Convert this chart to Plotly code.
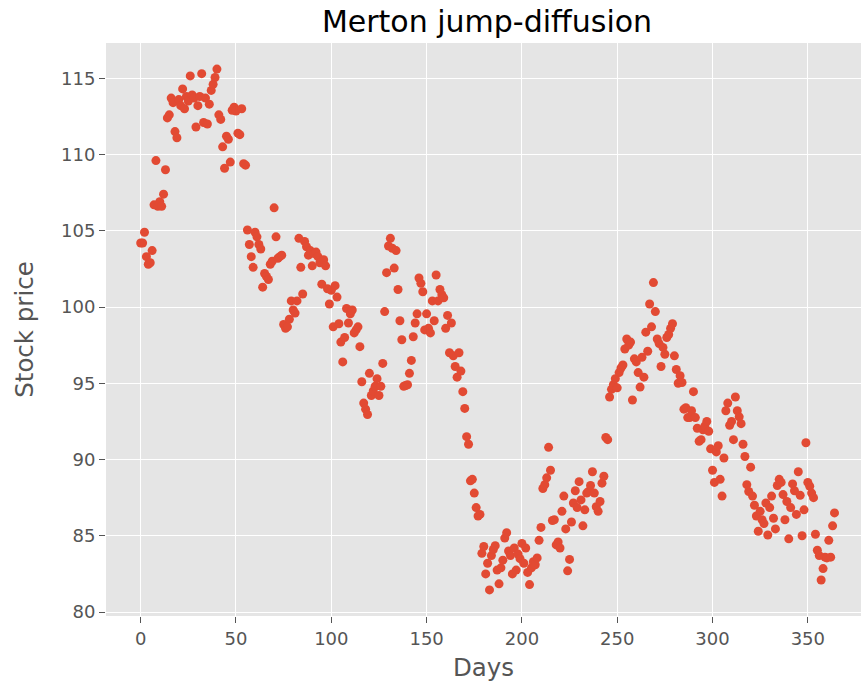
import numpy as np
import plotly.graph_objects as go

# Simulated daily closing prices (Merton jump-diffusion), one value per day
price = [
    104.2, 104.2, 104.9, 103.3, 102.8, 102.9, 103.7, 106.7, 109.6, 106.6,
    106.9, 106.6, 107.4, 109.0, 112.4, 112.6, 113.7, 113.4, 111.5, 111.1,
    113.6, 113.2, 114.3, 113.0, 113.8, 113.5, 115.15, 113.9, 113.7, 111.8,
    113.2, 113.8, 115.3, 112.1, 113.7, 112.0, 113.3, 114.2, 114.6, 115.05,
    115.6, 112.6, 112.3, 110.5, 109.1, 111.2, 111.0, 109.5, 112.9, 113.1,
    112.85, 111.4, 111.3, 113.0, 109.4, 109.3, 105.05, 104.1, 103.3, 102.6,
    104.9, 104.6, 104.1, 103.8, 101.3, 102.2, 102.0, 101.8, 102.8, 103.0,
    106.5, 104.6, 103.2, 103.3, 103.4, 98.85, 98.6, 98.7, 99.2, 100.4,
    99.8, 99.6, 100.4, 104.5, 102.6, 100.85, 104.3, 103.95, 103.4, 103.7,
    102.7, 103.5, 103.6, 103.3, 102.9, 101.5, 103.1, 102.7, 101.2, 100.2,
    101.1, 98.7, 101.4, 100.65, 98.9, 97.7, 96.4, 98.0, 99.9, 98.95,
    99.55, 99.8, 98.3, 98.5, 98.7, 97.4, 95.1, 93.7, 93.3, 92.95,
    95.65, 94.2, 94.5, 94.8, 95.3, 94.2, 94.8, 96.3, 99.7, 102.25,
    104.0, 104.5, 103.85, 102.55, 103.7, 101.15, 99.1, 97.85, 94.8, 94.85,
    94.9, 95.65, 96.5, 98.05, 98.95, 99.55, 101.9, 101.55, 101.0, 98.5,
    99.55, 98.6, 98.3, 100.4, 99.1, 102.1, 100.4, 101.15, 100.8, 100.6,
    98.6, 99.45, 97.0, 98.95, 96.8, 96.1, 95.4, 97.0, 95.8, 94.45,
    93.35, 91.5, 91.0, 88.6, 88.7, 87.8, 86.85, 86.3, 86.4, 83.85,
    84.3, 82.5, 83.2, 81.45, 83.7, 84.1, 84.35, 82.75, 81.85, 82.9,
    83.4, 84.85, 85.2, 84.0, 83.7, 82.5, 84.2, 82.75, 83.8, 83.5,
    84.5, 83.2, 84.2, 82.6, 81.8, 82.9, 83.3, 83.1, 83.55, 84.7,
    85.55, 88.1, 88.35, 88.8, 90.8, 89.3, 86.0, 86.05, 84.4, 84.6,
    84.2, 86.6, 87.6, 85.45, 82.7, 83.45, 85.9, 87.15, 87.95, 86.85,
    88.55, 87.35, 85.65, 86.7, 87.8, 87.9, 88.3, 89.2, 87.8, 86.9,
    86.6, 87.25, 88.45, 88.9, 91.45, 91.3, 94.1, 94.6, 94.9, 95.3,
    94.7, 95.7, 96.0, 96.2, 97.25, 97.9, 97.5, 97.7, 93.9, 96.6,
    96.4, 95.7, 94.75, 96.7, 95.4, 98.35, 97.1, 100.2, 98.7, 101.6,
    99.7, 97.9, 97.6, 96.1, 97.35, 96.9, 98.0, 98.2, 98.6, 98.9,
    96.8, 95.9, 95.0, 95.5, 95.05, 93.3, 93.4, 92.75, 92.75, 93.2,
    94.45, 92.75, 92.05, 91.2, 91.3, 91.95, 92.2, 92.5, 91.85, 90.7,
    89.3, 88.5, 90.5, 90.9, 88.7, 87.6, 90.1, 93.2, 93.7, 92.25,
    92.5, 91.3, 94.1, 93.2, 92.8, 92.35, 91.0, 90.2, 88.35, 87.9,
    89.5, 87.6, 87.0, 86.3, 85.3, 86.6, 86.05, 85.8, 87.15, 85.05,
    86.85, 87.6, 86.15, 85.45, 88.3, 88.7, 88.5, 87.7, 86.05, 87.25,
    84.8, 86.85, 88.4, 87.95, 86.4, 89.2, 87.65, 85.0, 86.7, 91.1,
    88.5, 88.25, 87.8, 87.5, 85.1, 84.05, 83.7, 82.1, 82.85, 83.6,
    83.55, 84.7, 83.6, 85.65, 86.5,
]
days = np.arange(len(price))

x_ticks = [0, 50, 100, 150, 200, 250, 300, 350]
y_ticks = [80, 85, 90, 95, 100, 105, 110, 115]

TITLE = "Merton jump-diffusion"
X_LABEL = "Days"
Y_LABEL = "Stock price"

GREY = "#555555"
FONT = "DejaVu Sans"

fig = go.Figure(
    go.Scatter(
        x=days,
        y=price,
        mode="markers",
        marker=dict(color="#E24A33", size=9, line=dict(width=0)),
        hoverinfo="x+y",
    )
)

fig.update_layout(
    width=861,
    height=690,
    margin=dict(l=106, r=0, t=43, b=74),
    paper_bgcolor="white",
    plot_bgcolor="#E5E5E5",
    showlegend=False,
    font=dict(family=FONT, color=GREY, size=18),
    title=dict(
        text=TITLE,
        font=dict(family=FONT, size=30, color="black"),
        xref="container",
        x=487 / 861,
        xanchor="center",
        yref="container",
        y=1 - 21 / 690,
        yanchor="middle",
    ),
)

fig.update_xaxes(
    range=[-18.2, 377.9],
    tickvals=x_ticks,
    ticktext=[str(v) for v in x_ticks],
    showgrid=True,
    gridcolor="white",
    gridwidth=1.3,
    zeroline=False,
    showline=False,
    ticks="outside",
    ticklen=6,
    tickwidth=1.3,
    tickcolor=GREY,
    tickfont=dict(family=FONT, size=18, color=GREY),
    title=dict(text=X_LABEL, font=dict(family=FONT, size=24.5, color=GREY), standoff=11),
)

fig.update_yaxes(
    range=[79.74, 117.31],
    tickvals=y_ticks,
    ticktext=[str(v) for v in y_ticks],
    showgrid=True,
    gridcolor="white",
    gridwidth=1.3,
    zeroline=False,
    showline=False,
    ticks="outside",
    ticklen=6,
    tickwidth=1.3,
    tickcolor=GREY,
    tickfont=dict(family=FONT, size=18, color=GREY),
    title=dict(text=Y_LABEL, font=dict(family=FONT, size=24.5, color=GREY), standoff=20),
)

fig.write_html("out.html")
